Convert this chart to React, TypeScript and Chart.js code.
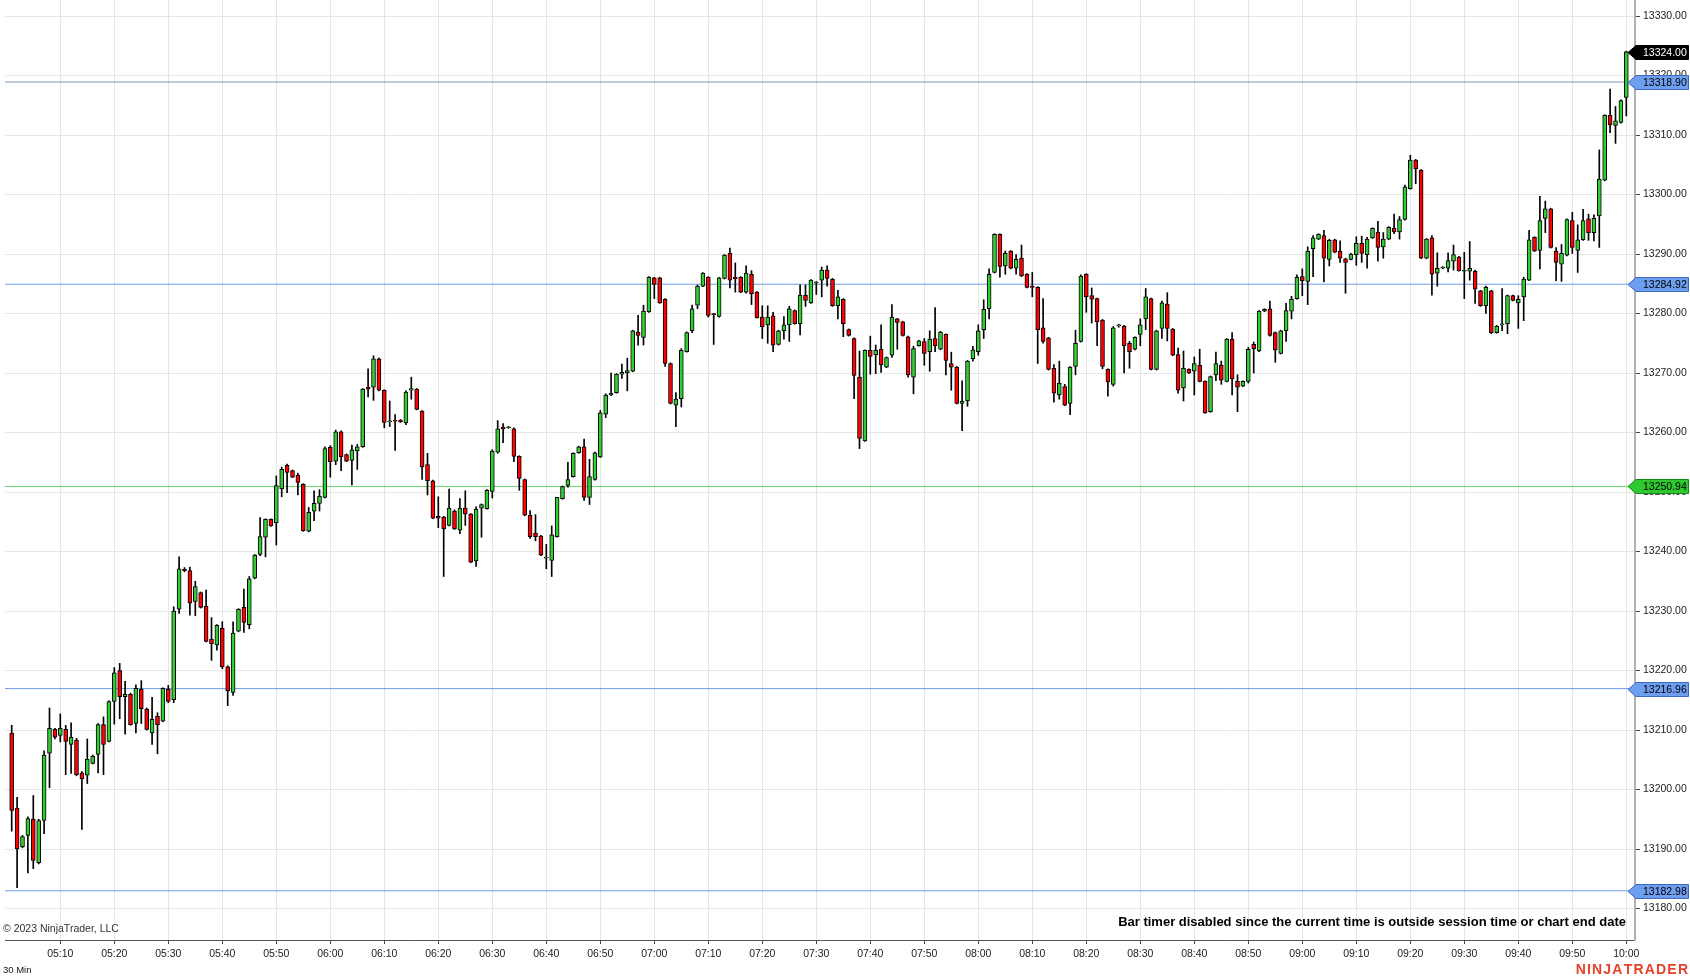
import React, { useEffect, useRef } from 'react';
import { Chart, registerables } from 'chart.js';

Chart.register(...registerables);

// ---------- DATA (1-minute bars, 05:01 .. 10:00) ----------
const firstBarTime = '05:01';

const opens = [
  13209.5, 13196.9, 13190.4, 13192.3, 13195.0, 13187.7, 13194.8, 13206.1, 13210.1, 13209.1,
  13210.1, 13207.6, 13208.3, 13202.8, 13202.4, 13204.4, 13205.9, 13210.9, 13208.1, 13214.8,
  13220.0, 13215.6, 13216.0, 13211.1, 13216.9, 13213.5, 13209.5, 13212.3, 13211.5, 13216.9,
  13215.1, 13230.3, 13237.0, 13236.8, 13231.6, 13233.1, 13230.8, 13225.3, 13224.3, 13227.1,
  13220.6, 13216.3, 13226.6, 13230.6, 13227.7, 13235.5, 13239.5, 13242.4, 13245.4, 13244.8,
  13250.5, 13254.5, 13253.6, 13252.8, 13251.3, 13243.4, 13246.8, 13248.1, 13249.1, 13257.5,
  13255.2, 13260.1, 13256.3, 13255.3, 13256.9, 13257.6, 13267.6, 13267.6, 13272.4, 13267.1,
  13261.8, 13262.1, 13262.1, 13261.6, 13267.1, 13267.3, 13263.6, 13254.6, 13251.9, 13245.9,
  13245.8, 13244.4, 13246.8, 13243.6, 13247.3, 13246.3, 13238.4, 13247.3, 13247.2, 13250.1,
  13256.7, 13260.9, 13260.8, 13260.6, 13256.0, 13252.1, 13246.1, 13243.1, 13242.6, 13238.9,
  13238.5, 13242.5, 13248.9, 13251.1, 13252.6, 13256.6, 13257.6, 13249.1, 13252.1, 13255.9,
  13263.1, 13266.3, 13266.7, 13269.8, 13270.0, 13270.3, 13276.9, 13276.0, 13280.3, 13286.0,
  13286.0, 13282.4, 13271.6, 13264.6, 13265.7, 13273.6, 13277.1, 13281.4, 13284.6, 13286.1,
  13279.9, 13279.5, 13285.9, 13290.1, 13286.1, 13286.1, 13283.6, 13286.6, 13283.6, 13279.4,
  13278.1, 13279.6, 13274.8, 13277.1, 13278.1, 13280.5, 13278.3, 13283.1, 13281.8, 13285.1,
  13285.6, 13287.3, 13285.8, 13281.3, 13282.4, 13277.3, 13275.8, 13269.3, 13258.6, 13273.8,
  13273.1, 13274.0, 13271.0, 13273.0, 13279.1, 13278.6, 13276.1, 13269.3, 13274.6, 13275.3,
  13273.6, 13275.8, 13274.0, 13276.5, 13271.6, 13271.0, 13264.9, 13265.3, 13272.4, 13273.6,
  13277.3, 13280.8, 13286.9, 13293.3, 13288.0, 13290.5, 13287.6, 13289.3, 13286.6, 13284.5,
  13284.4, 13277.6, 13275.9, 13270.8, 13266.3, 13267.7, 13264.9, 13271.1, 13275.3, 13286.6,
  13283.0, 13282.5, 13278.9, 13270.6, 13268.1, 13277.9, 13277.9, 13275.0, 13274.0, 13276.5,
  13279.1, 13282.5, 13270.6, 13277.5, 13281.6, 13277.4, 13273.1, 13267.5, 13270.6, 13270.3,
  13271.3, 13268.6, 13263.5, 13269.7, 13271.3, 13268.6, 13275.7, 13268.6, 13267.8, 13268.6,
  13274.8, 13273.7, 13280.4, 13280.8, 13276.8, 13273.3, 13277.1, 13280.4, 13282.5, 13286.2,
  13285.4, 13290.9, 13292.5, 13293.1, 13289.1, 13292.4, 13290.5, 13289.2, 13289.1, 13289.9,
  13291.8, 13289.9, 13292.7, 13293.7, 13291.2, 13292.5, 13294.3, 13293.7, 13295.8, 13301.0,
  13305.8, 13304.1, 13289.3, 13292.7, 13286.8, 13287.6, 13287.6, 13288.8, 13289.5, 13287.1,
  13287.1, 13287.1, 13283.8, 13281.3, 13283.8, 13276.8, 13278.1, 13278.3, 13283.0, 13281.8,
  13282.8, 13285.6, 13292.8, 13290.6, 13296.0, 13297.6, 13290.5, 13288.3, 13289.8, 13295.6,
  13290.6, 13292.4, 13295.9, 13293.6, 13296.4, 13302.4, 13313.3, 13311.6, 13312.1, 13316.3,
];

const highs = [
  13210.8, 13198.7, 13192.3, 13195.4, 13199.0, 13195.0, 13206.5, 13213.7, 13210.3, 13212.7,
  13210.8, 13211.2, 13208.6, 13203.0, 13208.5, 13205.8, 13211.1, 13212.2, 13214.9, 13220.5,
  13221.2, 13218.2, 13216.2, 13217.6, 13218.3, 13213.7, 13215.5, 13212.9, 13217.1, 13217.5,
  13230.7, 13239.1, 13237.3, 13237.4, 13235.0, 13233.2, 13233.5, 13228.9, 13227.7, 13228.2,
  13220.8, 13228.2, 13230.4, 13233.7, 13235.8, 13239.5, 13245.7, 13245.5, 13245.5, 13252.7,
  13254.2, 13254.7, 13253.7, 13253.2, 13251.4, 13247.4, 13250.2, 13250.4, 13257.6, 13257.8,
  13260.4, 13260.3, 13256.4, 13257.9, 13258.0, 13267.4, 13270.7, 13272.9, 13272.5, 13267.2,
  13265.3, 13263.0, 13262.2, 13267.0, 13269.3, 13267.4, 13263.7, 13256.5, 13252.0, 13249.2,
  13245.9, 13250.5, 13247.0, 13248.9, 13250.2, 13246.4, 13247.5, 13248.0, 13250.4, 13257.1,
  13262.0, 13261.5, 13261.0, 13260.8, 13256.1, 13252.2, 13246.9, 13246.2, 13242.7, 13241.2,
  13244.3, 13249.1, 13251.0, 13255.0, 13256.6, 13257.7, 13258.9, 13255.5, 13256.7, 13263.7,
  13266.5, 13270.0, 13269.9, 13271.5, 13272.5, 13277.2, 13279.7, 13281.4, 13286.2, 13286.1,
  13286.1, 13282.5, 13271.7, 13266.7, 13274.1, 13276.9, 13281.4, 13284.8, 13286.9, 13286.2,
  13280.0, 13286.1, 13289.9, 13291.0, 13288.5, 13286.2, 13288.0, 13287.2, 13283.7, 13281.3,
  13281.3, 13280.2, 13277.2, 13279.5, 13281.2, 13280.6, 13284.8, 13284.8, 13285.7, 13285.4,
  13287.8, 13288.0, 13285.9, 13283.9, 13282.5, 13277.4, 13275.9, 13273.7, 13273.9, 13276.2,
  13274.7, 13278.1, 13272.7, 13281.5, 13279.2, 13278.7, 13276.2, 13274.5, 13275.5, 13275.8,
  13277.1, 13281.0, 13277.0, 13276.6, 13273.5, 13271.1, 13268.7, 13272.1, 13274.5, 13278.1,
  13282.3, 13287.5, 13293.4, 13293.4, 13290.5, 13290.6, 13289.9, 13291.5, 13286.7, 13286.9,
  13284.5, 13282.5, 13276.0, 13271.4, 13272.0, 13268.1, 13271.1, 13277.2, 13286.5, 13286.7,
  13284.3, 13282.6, 13279.0, 13270.7, 13277.8, 13278.2, 13278.0, 13275.3, 13276.1, 13279.1,
  13284.2, 13282.6, 13277.2, 13282.1, 13283.5, 13277.5, 13274.2, 13273.7, 13270.7, 13272.7,
  13274.0, 13268.7, 13269.5, 13273.5, 13272.0, 13275.8, 13276.8, 13269.7, 13268.7, 13274.3,
  13275.2, 13280.5, 13280.8, 13282.1, 13276.9, 13277.2, 13281.7, 13282.9, 13286.5, 13287.5,
  13291.2, 13293.1, 13293.4, 13294.0, 13292.5, 13292.5, 13292.2, 13289.3, 13290.1, 13292.9,
  13293.0, 13292.8, 13294.4, 13295.5, 13293.6, 13294.6, 13296.7, 13296.3, 13301.6, 13306.6,
  13305.9, 13304.2, 13292.6, 13293.1, 13290.2, 13287.9, 13290.2, 13291.5, 13289.6, 13290.3,
  13292.1, 13287.3, 13283.9, 13284.6, 13283.9, 13278.0, 13284.2, 13283.1, 13283.1, 13283.0,
  13286.1, 13294.0, 13292.9, 13299.7, 13298.9, 13297.7, 13291.1, 13291.6, 13295.9, 13297.0,
  13294.9, 13297.5, 13296.7, 13296.6, 13307.5, 13313.4, 13317.7, 13314.8, 13315.9, 13324.1,
];

const lows = [
  13193.0, 13183.5, 13190.2, 13186.0, 13186.7, 13187.5, 13192.6, 13200.3, 13208.5, 13208.0,
  13202.5, 13202.7, 13202.3, 13193.3, 13201.0, 13204.3, 13202.8, 13202.5, 13208.0, 13211.0,
  13211.9, 13209.3, 13210.8, 13209.5, 13211.1, 13210.0, 13207.6, 13206.0, 13211.4, 13214.6,
  13214.6, 13229.6, 13236.6, 13229.3, 13229.2, 13230.5, 13224.8, 13221.7, 13223.4, 13220.3,
  13214.1, 13215.8, 13226.5, 13226.4, 13227.0, 13235.4, 13239.3, 13239.1, 13244.2, 13241.1,
  13249.2, 13249.9, 13252.4, 13249.5, 13243.4, 13243.3, 13245.2, 13246.8, 13249.0, 13252.5,
  13254.6, 13253.6, 13255.1, 13251.2, 13253.8, 13257.5, 13266.0, 13265.4, 13267.0, 13260.8,
  13261.0, 13257.0, 13261.7, 13261.3, 13265.6, 13263.8, 13252.1, 13249.5, 13245.5, 13244.0,
  13235.8, 13244.3, 13243.7, 13243.0, 13244.4, 13238.1, 13237.5, 13242.4, 13247.1, 13249.0,
  13256.5, 13258.3, 13260.7, 13255.1, 13250.3, 13246.0, 13242.2, 13241.8, 13239.3, 13237.1,
  13235.8, 13242.4, 13248.8, 13250.8, 13252.5, 13256.5, 13248.6, 13247.9, 13252.0, 13255.8,
  13262.5, 13266.2, 13266.6, 13269.1, 13267.0, 13270.2, 13274.7, 13274.7, 13280.2, 13282.5,
  13281.7, 13271.1, 13264.8, 13261.0, 13264.3, 13273.5, 13276.8, 13280.8, 13284.5, 13279.4,
  13274.8, 13279.4, 13285.8, 13284.3, 13283.6, 13283.5, 13283.4, 13281.5, 13279.2, 13275.8,
  13275.0, 13273.6, 13274.7, 13275.7, 13275.3, 13278.2, 13276.4, 13281.2, 13281.7, 13283.2,
  13282.8, 13284.6, 13281.2, 13279.1, 13276.1, 13276.2, 13265.7, 13257.3, 13258.5, 13269.8,
  13269.9, 13270.1, 13270.9, 13272.6, 13274.0, 13276.2, 13269.3, 13266.5, 13274.5, 13271.3,
  13270.3, 13273.6, 13273.9, 13269.7, 13267.1, 13264.8, 13260.3, 13264.4, 13272.0, 13273.0,
  13275.8, 13279.1, 13286.8, 13286.1, 13286.6, 13287.5, 13286.6, 13286.2, 13284.3, 13282.8,
  13271.6, 13275.0, 13270.5, 13265.1, 13265.6, 13264.5, 13263.0, 13269.7, 13275.2, 13280.2,
  13278.4, 13274.6, 13270.7, 13266.1, 13267.8, 13277.7, 13270.0, 13270.8, 13273.9, 13274.6,
  13277.3, 13270.5, 13270.5, 13275.8, 13275.4, 13272.9, 13266.6, 13265.3, 13269.9, 13266.3,
  13268.5, 13263.2, 13263.4, 13268.7, 13268.1, 13268.5, 13266.3, 13263.5, 13267.7, 13268.3,
  13270.0, 13273.6, 13280.3, 13276.2, 13271.8, 13273.2, 13275.3, 13279.1, 13282.4, 13283.0,
  13281.5, 13286.2, 13292.4, 13285.3, 13288.0, 13290.2, 13288.6, 13283.4, 13289.0, 13288.1,
  13288.6, 13287.6, 13292.6, 13288.8, 13289.3, 13292.4, 13293.4, 13292.5, 13295.7, 13300.9,
  13301.8, 13289.2, 13289.2, 13283.1, 13284.6, 13287.5, 13287.0, 13287.3, 13287.1, 13282.5,
  13285.6, 13281.7, 13281.2, 13280.0, 13276.6, 13276.7, 13277.1, 13276.6, 13282.1, 13277.5,
  13278.8, 13285.5, 13290.4, 13287.5, 13293.6, 13291.0, 13285.5, 13285.4, 13289.7, 13290.1,
  13286.9, 13292.3, 13292.3, 13292.2, 13291.1, 13302.3, 13310.4, 13308.6, 13312.0, 13313.2,
];

const closes = [
  13196.5, 13190.0, 13192.1, 13195.1, 13188.1, 13194.8, 13205.8, 13210.3, 13208.8, 13210.3,
  13208.1, 13208.8, 13202.5, 13201.8, 13205.1, 13205.6, 13210.9, 13207.6, 13214.8, 13219.6,
  13215.6, 13216.0, 13210.9, 13217.0, 13213.6, 13210.1, 13211.8, 13210.9, 13217.0, 13214.8,
  13230.0, 13237.1, 13236.8, 13231.3, 13234.1, 13230.6, 13224.9, 13224.5, 13227.6, 13220.6,
  13216.6, 13226.3, 13230.3, 13228.1, 13235.4, 13239.4, 13242.5, 13245.4, 13244.3, 13251.1,
  13253.8, 13253.3, 13252.5, 13251.6, 13243.5, 13246.6, 13248.1, 13249.3, 13257.3, 13255.1,
  13260.1, 13255.9, 13255.2, 13257.1, 13257.6, 13267.3, 13267.3, 13272.4, 13267.1, 13261.7,
  13261.9, 13261.9, 13261.8, 13266.8, 13267.4, 13263.9, 13254.2, 13251.9, 13245.6, 13245.6,
  13243.8, 13247.3, 13243.8, 13247.3, 13246.3, 13238.2, 13247.1, 13247.9, 13250.3, 13256.9,
  13260.6, 13260.6, 13260.9, 13256.0, 13252.3, 13246.1, 13242.5, 13242.5, 13239.4, 13238.9,
  13242.8, 13249.1, 13250.9, 13252.1, 13256.5, 13257.6, 13249.1, 13252.6, 13256.6, 13263.3,
  13266.3, 13266.6, 13269.8, 13270.1, 13270.4, 13277.1, 13276.3, 13280.4, 13286.1, 13284.9,
  13281.8, 13271.6, 13264.9, 13265.6, 13273.8, 13276.8, 13280.8, 13284.6, 13286.8, 13279.7,
  13279.8, 13286.0, 13289.8, 13285.6, 13285.8, 13283.6, 13286.8, 13283.3, 13279.3, 13277.8,
  13279.4, 13274.7, 13277.1, 13278.1, 13280.8, 13278.3, 13283.1, 13282.2, 13285.6, 13285.3,
  13287.3, 13285.9, 13281.3, 13282.8, 13278.3, 13276.3, 13269.6, 13259.0, 13273.8, 13272.8,
  13273.8, 13271.4, 13272.6, 13279.4, 13278.5, 13276.3, 13269.7, 13274.1, 13275.4, 13273.3,
  13275.7, 13274.6, 13276.9, 13272.1, 13271.0, 13264.9, 13265.3, 13272.0, 13273.9, 13277.1,
  13280.7, 13286.6, 13293.3, 13287.9, 13290.1, 13287.6, 13289.1, 13286.3, 13284.4, 13284.4,
  13277.3, 13275.3, 13270.6, 13266.6, 13268.3, 13264.6, 13271.0, 13275.0, 13286.3, 13282.8,
  13282.4, 13278.6, 13271.1, 13268.5, 13277.6, 13278.1, 13274.6, 13273.6, 13276.0, 13278.1,
  13282.8, 13270.6, 13277.1, 13281.8, 13277.5, 13273.0, 13267.1, 13270.8, 13270.0, 13271.6,
  13268.6, 13263.3, 13269.4, 13271.6, 13268.8, 13275.7, 13269.0, 13267.6, 13268.6, 13274.0,
  13274.1, 13280.4, 13280.7, 13276.3, 13273.9, 13277.1, 13280.5, 13282.4, 13286.1, 13285.5,
  13290.5, 13292.7, 13293.3, 13289.3, 13292.3, 13290.3, 13289.3, 13288.6, 13290.0, 13291.8,
  13290.1, 13292.5, 13294.3, 13291.1, 13292.5, 13294.5, 13293.7, 13295.8, 13301.3, 13305.8,
  13304.3, 13289.3, 13292.5, 13286.6, 13287.6, 13287.8, 13288.9, 13289.9, 13287.2, 13287.2,
  13287.6, 13284.1, 13281.3, 13284.4, 13276.8, 13277.9, 13278.2, 13283.0, 13282.2, 13282.4,
  13285.8, 13292.4, 13290.5, 13295.6, 13297.6, 13291.1, 13288.6, 13290.1, 13295.8, 13291.1,
  13292.4, 13295.6, 13293.6, 13296.0, 13302.6, 13313.3, 13311.7, 13312.4, 13315.8, 13324.0,
];

const timeTickLabels = [
  '05:10', '05:20', '05:30', '05:40', '05:50', '06:00', '06:10', '06:20', '06:30', '06:40',
  '06:50', '07:00', '07:10', '07:20', '07:30', '07:40', '07:50', '08:00', '08:10', '08:20',
  '08:30', '08:40', '08:50', '09:00', '09:10', '09:20', '09:30', '09:40', '09:50', '10:00',
];

const priceTicks = [
  13180, 13190, 13200, 13210, 13220, 13230, 13240, 13250,
  13260, 13270, 13280, 13290, 13300, 13310, 13320, 13330,
];

// horizontal drawn levels
const blueLevels = [13318.90, 13284.92, 13216.96, 13182.98];
const greenLevels = [13250.94];

const copyrightText = '© 2023 NinjaTrader, LLC';
const barTimerText = 'Bar timer disabled since the current time is outside session time or chart end date';
const periodText = '30 Min';
const brandText = 'NINJATRADER';

// ---------- helpers ----------
const toMinutes = (t: string) => parseInt(t.slice(0, 2), 10) * 60 + parseInt(t.slice(3, 5), 10);
const firstMinute = toMinutes(firstBarTime);
const tickMinutes = timeTickLabels.map(toMinutes);

// view range
const X_MIN = 299.76;
const X_MAX = 601.61;
const Y_MIN = 13174.71;
const Y_MAX = 13332.69;

const FONT = "Arial, 'Liberation Sans', sans-serif";
const GREEN = '#32cd32';
const RED = '#ff0000';

export default function App() {
  const canvasRef = useRef<HTMLCanvasElement | null>(null);

  useEffect(() => {
    const canvas = canvasRef.current;
    if (!canvas) return;

    const barX = opens.map((_, i) => firstMinute + i);
    const bodyData = opens.map((o, i) => ({ x: barX[i], y: [o, closes[i]] }));
    const wickData = opens.map((_, i) => ({ x: barX[i], y: [lows[i], highs[i]] }));
    const bodyColors = opens.map((o, i) => (closes[i] >= o ? GREEN : RED));

    const levelDataset = (v: number, color: string) => ({
      type: 'line' as const,
      data: [
        { x: X_MIN, y: v },
        { x: X_MAX, y: v },
      ],
      borderColor: color,
      borderWidth: 1,
      pointRadius: 0,
      fill: false,
      order: 5,
    });

    const overlay = {
      id: 'ntOverlay',
      afterDraw(chart: any) {
        const ctx = chart.ctx as CanvasRenderingContext2D;
        const ys = chart.scales.y;
        const area = chart.chartArea;
        ctx.save();

        const drawTag = (price: number, fill: string, stroke: string, textColor: string) => {
          const py = Math.round(ys.getPixelForValue(price)) + 0.5;
          const tip = area.right - 7;
          const shoulder = area.right + 1;
          const right = chart.width - 1.5;
          const h = 7;
          ctx.beginPath();
          ctx.moveTo(tip, py);
          ctx.lineTo(shoulder, py - h);
          ctx.lineTo(right, py - h);
          ctx.lineTo(right, py + h);
          ctx.lineTo(shoulder, py + h);
          ctx.closePath();
          ctx.fillStyle = fill;
          ctx.fill();
          ctx.lineWidth = 1;
          ctx.strokeStyle = stroke;
          ctx.stroke();
          ctx.fillStyle = textColor;
          ctx.font = `10.5px ${FONT}`;
          ctx.textAlign = 'left';
          ctx.textBaseline = 'middle';
          ctx.fillText(price.toFixed(2), area.right + 8, py + 0.5);
        };

        blueLevels.forEach((v) => drawTag(v, '#6e9ef0', '#3c6bc0', '#000'));
        greenLevels.forEach((v) => drawTag(v, '#2fc82f', '#178a17', '#000'));
        drawTag(closes[closes.length - 1], '#000', '#000', '#fff');

        // texts
        ctx.fillStyle = '#333';
        ctx.font = `10.5px ${FONT}`;
        ctx.textAlign = 'left';
        ctx.textBaseline = 'middle';
        ctx.fillText(copyrightText, 3, 929);

        ctx.fillStyle = '#000';
        ctx.font = `bold 13px ${FONT}`;
        ctx.textAlign = 'right';
        ctx.fillText(barTimerText, 1626, 922.5);

        ctx.fillStyle = '#111';
        ctx.font = `9.5px ${FONT}`;
        ctx.textAlign = 'left';
        ctx.fillText(periodText, 3, 970);

        // brand
        ctx.fillStyle = '#e8412c';
        ctx.font = `bold 14px ${FONT}`;
        ctx.textAlign = 'left';
        const spacing = 1.2;
        let total = 0;
        for (const ch of brandText) total += ctx.measureText(ch).width + spacing;
        total -= spacing;
        let bx = chart.width - 2 - total;
        for (const ch of brandText) {
          ctx.fillText(ch, bx, 970);
          bx += ctx.measureText(ch).width + spacing;
        }
        ctx.restore();
      },
    };

    const chart = new Chart(canvas, {
      type: 'bar',
      data: {
        datasets: [
          {
            type: 'bar',
            data: bodyData as any,
            backgroundColor: bodyColors,
            borderColor: '#000',
            borderWidth: 1,
            borderSkipped: false,
            barThickness: 4,
            minBarLength: 1,
            grouped: false,
            order: 1,
          } as any,
          {
            type: 'bar',
            data: wickData as any,
            backgroundColor: '#000',
            borderWidth: 0,
            barThickness: 1,
            grouped: false,
            order: 2,
          } as any,
          ...blueLevels.map((v, i) => levelDataset(v, i === 0 ? '#7f93bd' : '#6f9cec')),
          ...greenLevels.map((v) => levelDataset(v, '#66d466')),
        ],
      },
      options: {
        animation: false,
        responsive: false,
        maintainAspectRatio: false,
        devicePixelRatio: 1,
        events: [],
        layout: { padding: { left: 5, top: 0, right: 0, bottom: 0 } },
        plugins: {
          legend: { display: false },
          tooltip: { enabled: false },
        },
        scales: {
          x: {
            type: 'linear',
            min: X_MIN,
            max: X_MAX,
            offset: false,
            grid: {
              color: '#e6e6e6',
              lineWidth: 1,
              offset: false,
              drawTicks: true,
              tickLength: 4,
              tickColor: '#444',
            },
            border: { display: true, color: '#555', width: 1 },
            ticks: {
              autoSkip: false,
              maxRotation: 0,
              padding: 4,
              color: '#222',
              font: { size: 10.5, family: FONT },
              callback: (v: any) => {
                const idx = tickMinutes.indexOf(Number(v));
                return idx >= 0 ? timeTickLabels[idx] : '';
              },
            },
            afterBuildTicks: (axis: any) => {
              axis.ticks = tickMinutes.map((m) => ({ value: m }));
            },
            afterFit: (s: any) => {
              s.height = 40;
              s.paddingLeft = 0;
              s.paddingRight = 0;
            },
          },
          y: {
            type: 'linear',
            position: 'right',
            min: Y_MIN,
            max: Y_MAX,
            grid: {
              color: '#e6e6e6',
              lineWidth: 1,
              drawTicks: true,
              tickLength: 5,
              tickColor: '#444',
            },
            border: { display: true, color: '#b0b0b0', width: 2 },
            ticks: {
              padding: 3,
              color: '#222',
              font: { size: 10.5, family: FONT },
              callback: (v: any) => Number(v).toFixed(2),
            },
            afterBuildTicks: (axis: any) => {
              axis.ticks = priceTicks.map((p) => ({ value: p }));
            },
            afterFit: (s: any) => {
              s.width = 55;
              s.paddingTop = 0;
              s.paddingBottom = 0;
            },
          },
        },
      } as any,
      plugins: [overlay],
    });

    return () => {
      chart.destroy();
    };
  }, []);

  return (
    <div style={{ position: 'absolute', left: 0, top: 0, width: 1690, height: 980, background: '#fff' }}>
      <canvas ref={canvasRef} width={1690} height={980} style={{ display: 'block', width: 1690, height: 980 }} />
    </div>
  );
}
